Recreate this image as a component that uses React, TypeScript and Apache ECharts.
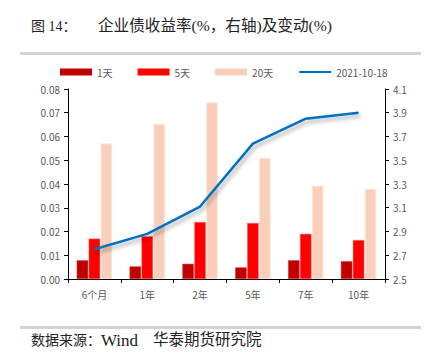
import React, { useEffect, useRef } from "react";
import * as echarts from "echarts";

const categories = ["6个月", "1年", "2年", "5年", "7年", "10年"];
const change1d = [0.0079, 0.0053, 0.0064, 0.0049, 0.0079, 0.0075];
const change5d = [0.017, 0.018, 0.024, 0.0236, 0.019, 0.0164];
const change20d = [0.0571, 0.0653, 0.0744, 0.051, 0.0393, 0.0379];
const yield20211018 = [2.75, 2.88, 3.11, 3.64, 3.85, 3.9];

export default function App() {
  const ref = useRef<HTMLDivElement>(null);
  useEffect(() => {
    if (!ref.current) return;
    const chart = echarts.init(ref.current, null, { renderer: "svg" });
    const labelColor = "#595959";
    const serif = "'Liberation Serif', 'Noto Sans CJK SC', serif";
    chart.setOption({
      animation: false,
      backgroundColor: "#ffffff",
      textStyle: { fontFamily: "'Noto Sans CJK SC', 'Noto Sans', sans-serif" },
      graphic: [
        {
          type: "text",
          left: 31,
          top: 19,
          style: { text: "图 14：", font: `14px ${serif}`, fill: "#222" },
        },
        {
          type: "text",
          left: 98,
          top: 18,
          style: { text: "企业债收益率(%，右轴)及变动(%)", font: `15.6px ${serif}`, fill: "#222" },
        },
        {
          type: "rect",
          shape: { x: 20, y: 52, width: 401, height: 3 },
          style: { fill: "#d4d4d4" },
        },
        {
          type: "rect",
          shape: { x: 20, y: 326, width: 401, height: 3 },
          style: { fill: "#d4d4d4" },
        },
        {
          type: "text",
          left: 31,
          top: 333,
          style: { text: "数据来源：", font: `14px ${serif}`, fill: "#222" },
        },
        {
          type: "text",
          left: 101,
          top: 332,
          style: { text: "Wind", font: `17px ${serif}`, fill: "#222" },
        },
        {
          type: "text",
          left: 153,
          top: 332,
          style: { text: "华泰期货研究院", font: `15.5px ${serif}`, fill: "#222" },
        },
      ],
      legend: {
        left: 55,
        top: 62,
        itemWidth: 32,
        itemHeight: 7,
        itemGap: 25,
        itemStyle: { borderWidth: 0 },
        textStyle: { color: labelColor, fontSize: 10 },
        data: [
          { name: "1天", icon: "rect" },
          { name: "5天", icon: "rect" },
          { name: "20天", icon: "rect" },
          { name: "2021-10-18", itemStyle: { opacity: 0 } },
        ],
      },
      grid: { left: 68, right: 49, top: 89, bottom: 79 },
      xAxis: {
        type: "category",
        data: categories,
        axisLine: { lineStyle: { color: "#000", width: 1 } },
        axisTick: { show: true, alignWithLabel: false, length: 4, lineStyle: { color: "#000" } },
        axisLabel: { color: labelColor, fontSize: 10, margin: 10 },
      },
      yAxis: [
        {
          type: "value",
          min: 0,
          max: 0.08,
          interval: 0.01,
          splitLine: { show: false },
          axisLine: { show: true, lineStyle: { color: "#000" } },
          axisTick: { show: true, length: 4, lineStyle: { color: "#000" } },
          axisLabel: {
            color: labelColor,
            fontSize: 10,
            margin: 8,
            formatter: (v: number) => v.toFixed(2),
          },
        },
        {
          type: "value",
          min: 2.5,
          max: 4.1,
          interval: 0.2,
          splitLine: { show: false },
          axisLine: { show: true, lineStyle: { color: "#000" } },
          axisTick: { show: true, length: 4, lineStyle: { color: "#000" } },
          axisLabel: {
            color: labelColor,
            fontSize: 10,
            margin: 8,
            formatter: (v: number) => v.toFixed(1),
          },
        },
      ],
      series: [
        {
          name: "1天",
          type: "bar",
          data: change1d,
          barWidth: 11.5,
          barGap: "4%",
          itemStyle: { color: "#C00000", borderColor: "#d84a4a", borderWidth: 0.5 },
        },
        {
          name: "5天",
          type: "bar",
          data: change5d,
          barWidth: 11.5,
          barGap: "4%",
          itemStyle: { color: "#FF0000", borderColor: "#ff6a6a", borderWidth: 0.5 },
        },
        {
          name: "20天",
          type: "bar",
          data: change20d,
          barWidth: 11.5,
          barGap: "4%",
          itemStyle: { color: "#F9CFBA", borderColor: "#fde3d6", borderWidth: 1 },
        },
        {
          name: "2021-10-18",
          type: "line",
          yAxisIndex: 1,
          data: yield20211018,
          symbol: "none",
          lineStyle: {
            color: "#0070C0",
            width: 2.5,
            shadowColor: "rgba(0,0,0,0.35)",
            shadowBlur: 4,
            shadowOffsetX: 2,
            shadowOffsetY: 3,
          },
          itemStyle: { color: "#0070C0" },
        },
      ],
    });
    return () => chart.dispose();
  }, []);
  return <div ref={ref} style={{ width: 434, height: 358, position: "absolute", left: 0, top: 0 }} />;
}
